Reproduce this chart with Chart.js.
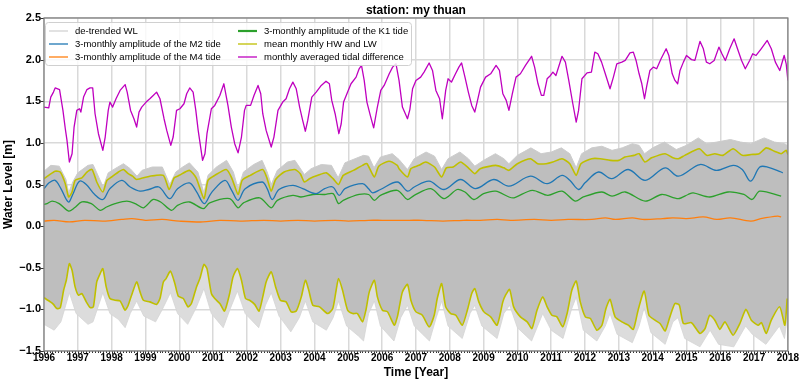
<!DOCTYPE html>
<html><head><meta charset="utf-8">
<script src="https://cdn.jsdelivr.net/npm/chart.js@4.4.1/dist/chart.umd.min.js"></script>
<style>html,body{margin:0;padding:0;background:#fff;}#wrap{width:800px;height:382px;}</style>
</head><body><div id="wrap"><canvas id="c" width="800" height="382"></canvas></div>
<script>
// ---------------- data ----------------
const TITLE = 'station: my thuan';
const X_TITLE = 'Time [Year]';
const Y_TITLE = 'Water Level [m]';
const X_MIN = 1996, X_MAX = 2018;
const Y_MIN = -1.5, Y_MAX = 2.5;

const LABELS = ['de-trended WL','3-monthly amplitude of the M2 tide','3-monthly amplitude of the M4 tide',
  '3-monthly amplitude of the K1 tide','mean monthly HW and LW','monthly averaged tidal difference'];

// monthly averaged tidal difference
const DIFF_T = [1996.00,1996.14,1996.20,1996.28,1996.33,1996.46,1996.56,1996.63,1996.68,1996.75,1996.83,1996.89,1996.97,
 1997.05,1997.09,1997.17,1997.27,1997.36,1997.44,1997.51,1997.61,1997.74,1997.81,1997.90,1997.95,
 1998.03,1998.13,1998.25,1998.40,1998.46,1998.56,1998.66,1998.74,1998.81,1998.89,
 1999.02,1999.13,1999.23,1999.33,1999.43,1999.55,1999.63,1999.75,1999.82,1999.92,
 2000.02,2000.14,2000.22,2000.31,2000.41,2000.49,2000.56,2000.69,2000.76,2000.82,2000.95,
 2001.05,2001.20,2001.32,2001.44,2001.54,2001.64,2001.74,2001.84,2001.93,2001.98,
 2002.11,2002.21,2002.33,2002.41,2002.47,2002.57,2002.72,2002.80,2002.92,
 2003.06,2003.16,2003.26,2003.36,2003.46,2003.56,2003.65,2003.73,2003.80,2003.92,
 2004.05,2004.20,2004.34,2004.44,2004.51,2004.61,2004.72,2004.79,2004.86,2004.98,
 2005.08,2005.23,2005.32,2005.39,2005.47,2005.55,2005.65,2005.75,2005.85,2005.96,
 2006.06,2006.21,2006.31,2006.41,2006.50,2006.60,2006.75,2006.82,2006.90,
 2007.00,2007.14,2007.24,2007.39,2007.49,2007.59,2007.70,2007.78,2007.88,2007.95,
 2008.05,2008.17,2008.27,2008.35,2008.45,2008.55,2008.65,2008.74,2008.81,2008.91,
 2009.06,2009.21,2009.37,2009.47,2009.57,2009.67,2009.75,2009.85,2009.96,
 2010.09,2010.24,2010.42,2010.51,2010.61,2010.71,2010.78,2010.88,2010.98,
 2011.05,2011.14,2011.32,2011.42,2011.52,2011.64,2011.74,2011.81,2011.91,
 2012.06,2012.19,2012.29,2012.38,2012.49,2012.60,2012.74,2012.84,2012.94,
 2013.09,2013.19,2013.33,2013.43,2013.51,2013.60,2013.68,2013.76,2013.82,2013.92,
 2014.02,2014.12,2014.25,2014.40,2014.48,2014.58,2014.66,2014.74,2014.81,2014.91,
 2015.00,2015.15,2015.25,2015.40,2015.50,2015.59,2015.69,2015.82,2015.96,
 2016.05,2016.15,2016.28,2016.41,2016.51,2016.63,2016.74,2016.87,2016.96,
 2017.06,2017.21,2017.39,2017.51,2017.63,2017.76,2017.89,2017.95,2018.00];
const DIFF_V = [1.43,1.42,1.55,1.61,1.66,1.64,1.39,1.17,1.03,0.77,0.87,1.19,1.39,
 1.41,1.37,1.55,1.64,1.66,1.66,1.35,1.11,0.91,1.07,1.39,1.49,
 1.43,1.53,1.63,1.70,1.61,1.39,1.29,1.19,1.37,1.43,
 1.49,1.53,1.57,1.61,1.53,1.29,1.15,0.97,1.07,1.39,
 1.41,1.47,1.59,1.66,1.61,1.39,1.15,0.79,0.87,1.11,1.41,
 1.45,1.57,1.71,1.45,1.19,0.99,0.88,1.07,1.39,1.45,
 1.45,1.57,1.69,1.59,1.35,1.15,0.95,1.07,1.39,
 1.49,1.53,1.65,1.73,1.65,1.43,1.27,1.14,1.27,1.55,
 1.61,1.69,1.74,1.71,1.51,1.35,1.11,1.23,1.49,1.61,
 1.71,1.79,1.89,1.93,1.75,1.49,1.33,1.18,1.41,1.63,
 1.69,1.83,1.91,1.95,1.75,1.43,1.29,1.40,1.65,
 1.75,1.79,1.85,1.96,1.87,1.63,1.53,1.29,1.63,1.77,
 1.73,1.83,1.91,1.96,1.79,1.61,1.45,1.37,1.49,1.67,
 1.79,1.83,1.93,1.87,1.59,1.51,1.39,1.59,1.79,
 1.83,1.93,2.04,1.91,1.71,1.57,1.57,1.77,1.81,
 1.85,1.81,2.04,1.97,1.75,1.47,1.25,1.39,1.77,
 1.84,1.85,2.09,2.07,1.97,1.83,1.65,1.79,1.95,
 1.97,1.99,2.08,2.09,1.99,1.83,1.71,1.53,1.67,1.87,
 1.91,1.89,2.01,2.13,2.05,1.83,1.75,1.71,1.87,1.97,
 2.05,2.00,1.99,2.22,2.13,1.97,1.95,1.99,2.15,
 2.07,1.99,2.13,2.25,2.13,1.99,1.89,1.99,2.07,
 2.05,2.13,2.23,2.13,1.97,1.87,2.05,1.95,1.75];

// mean monthly HW
const HW_T = [1996.00,1996.14,1996.33,1996.48,1996.63,1996.73,1996.83,1996.92,1997.12,1997.27,1997.42,1997.56,1997.74,1997.86,
 1998.00,1998.20,1998.35,1998.49,1998.62,1998.74,1999.13,1999.53,1999.70,1999.85,2000.00,2000.30,2000.50,2000.73,2000.85,
 2001.05,2001.39,2001.55,2001.74,2001.86,2002.10,2002.47,2002.60,2002.72,2002.85,2003.10,2003.42,2003.58,2003.70,2003.85,
 2004.10,2004.35,2004.55,2004.71,2004.85,2005.15,2005.42,2005.55,2005.77,2005.90,2006.20,2006.45,2006.50,2006.75,2006.85,
 2007.09,2007.29,2007.55,2007.76,2007.90,2008.10,2008.32,2008.55,2008.74,2008.90,2009.36,2009.60,2009.75,2010.00,2010.39,
 2010.60,2010.85,2011.05,2011.32,2011.55,2011.74,2011.88,2012.20,2012.45,2012.75,2013.00,2013.18,2013.45,2013.60,2013.77,
 2013.97,2014.37,2014.60,2014.76,2014.95,2015.38,2015.60,2015.84,2016.08,2016.38,2016.65,2016.92,2017.15,2017.36,2017.60,
 2017.80,2017.95,2018.00];
const HW_V = [0.57,0.61,0.66,0.65,0.51,0.35,0.41,0.55,0.58,0.65,0.68,0.53,0.41,0.55,
 0.59,0.65,0.68,0.63,0.60,0.56,0.60,0.61,0.44,0.58,0.61,0.67,0.58,0.33,0.55,
 0.61,0.68,0.58,0.38,0.55,0.61,0.68,0.57,0.42,0.56,0.65,0.68,0.63,0.53,0.57,
 0.61,0.64,0.57,0.50,0.61,0.67,0.73,0.75,0.59,0.72,0.78,0.73,0.69,0.59,0.69,
 0.73,0.77,0.71,0.59,0.70,0.71,0.77,0.70,0.63,0.69,0.73,0.70,0.67,0.75,0.81,
 0.75,0.75,0.77,0.81,0.75,0.61,0.75,0.81,0.81,0.79,0.79,0.83,0.85,0.87,0.77,
 0.82,0.87,0.82,0.81,0.85,0.93,0.85,0.87,0.85,0.93,0.85,0.86,0.87,0.94,0.90,
 0.87,0.91,0.86];

// mean monthly LW
const LW_T = [1996.00,1996.19,1996.28,1996.38,1996.48,1996.58,1996.66,1996.75,1996.83,1996.92,1997.02,1997.12,1997.25,1997.37,
 1997.46,1997.56,1997.66,1997.74,1997.84,1997.95,1998.10,1998.25,1998.40,1998.49,1998.59,1998.74,1998.84,1998.94,
 1999.13,1999.33,1999.43,1999.53,1999.61,1999.74,1999.87,1999.97,2000.12,2000.26,2000.36,2000.51,2000.61,2000.73,2000.82,
 2000.95,2001.05,2001.20,2001.34,2001.49,2001.59,2001.72,2001.84,2001.96,2002.08,2002.23,2002.36,2002.47,2002.57,2002.72,
 2002.85,2002.99,2003.16,2003.31,2003.46,2003.61,2003.73,2003.83,2003.95,2004.15,2004.39,2004.54,2004.64,2004.71,2004.83,
 2004.98,2005.13,2005.27,2005.42,2005.52,2005.62,2005.77,2005.86,2006.01,2006.16,2006.36,2006.45,2006.50,2006.60,2006.75,
 2006.85,2007.00,2007.19,2007.39,2007.54,2007.63,2007.76,2007.88,2008.03,2008.18,2008.37,2008.52,2008.65,2008.74,2008.86,
 2009.01,2009.21,2009.40,2009.57,2009.65,2009.77,2009.89,2010.09,2010.29,2010.43,2010.58,2010.75,2010.88,2011.02,2011.17,
 2011.34,2011.47,2011.61,2011.74,2011.86,2012.01,2012.16,2012.35,2012.50,2012.62,2012.74,2012.89,2013.09,2013.28,2013.43,
 2013.57,2013.75,2013.89,2014.07,2014.22,2014.37,2014.51,2014.66,2014.79,2014.91,2015.15,2015.40,2015.55,2015.69,2015.84,
 2015.99,2016.14,2016.38,2016.58,2016.76,2016.92,2017.12,2017.22,2017.36,2017.51,2017.76,2017.91,2017.98];
const LW_V = [-0.86,-0.91,-0.94,-0.99,-0.98,-0.77,-0.65,-0.45,-0.53,-0.73,-0.83,-0.81,-0.91,-0.98,
 -0.97,-0.67,-0.57,-0.51,-0.73,-0.87,-0.89,-0.90,-1.01,-0.95,-0.83,-0.67,-0.79,-0.89,
 -0.91,-0.94,-0.87,-0.67,-0.63,-0.54,-0.69,-0.84,-0.87,-0.97,-0.93,-0.73,-0.63,-0.46,-0.51,
 -0.81,-0.87,-0.93,-1.02,-0.81,-0.61,-0.51,-0.65,-0.87,-0.89,-0.94,-1.02,-0.85,-0.67,-0.55,
 -0.73,-0.89,-0.91,-1.03,-1.02,-0.85,-0.65,-0.77,-0.95,-0.97,-1.05,-0.99,-0.77,-0.63,-0.77,
 -1.01,-1.05,-1.05,-1.15,-1.01,-0.79,-0.65,-0.85,-1.01,-1.03,-1.19,-1.09,-0.99,-0.79,-0.70,
 -0.89,-1.03,-1.07,-1.21,-1.07,-0.87,-0.69,-0.97,-1.05,-1.07,-1.19,-1.01,-0.81,-0.75,-0.91,
 -1.03,-1.09,-1.19,-0.91,-0.83,-0.76,-0.97,-1.09,-1.15,-1.23,-1.01,-0.85,-0.97,-1.07,-1.09,
 -1.21,-1.05,-0.77,-0.66,-0.91,-1.09,-1.11,-1.25,-1.19,-0.99,-0.88,-1.09,-1.15,-1.19,-1.24,
 -1.01,-0.78,-1.07,-1.13,-1.17,-1.26,-1.09,-0.93,-0.95,-1.17,-1.16,-1.29,-1.23,-1.07,-1.13,
 -1.24,-1.15,-1.31,-1.17,-1.00,-1.13,-1.19,-1.16,-1.29,-1.13,-0.97,-1.19,-0.87];

// 3-monthly amplitude of the M2 tide
const M2_T = [1996.00,1996.15,1996.33,1996.50,1996.72,1996.85,1997.05,1997.25,1997.50,1997.74,1997.95,1998.30,1998.55,1998.84,
 1999.10,1999.40,1999.72,1999.95,2000.30,2000.50,2000.74,2000.95,2001.35,2001.55,2001.74,2001.95,2002.45,2002.60,2002.75,
 2002.95,2003.36,2003.65,2004.05,2004.30,2004.54,2004.73,2004.90,2005.42,2005.60,2005.72,2005.95,2006.45,2006.75,2006.95,
 2007.39,2007.83,2008.32,2008.76,2009.30,2009.75,2010.39,2010.88,2011.32,2011.55,2011.81,2012.00,2012.40,2012.79,2013.28,
 2013.78,2014.37,2014.76,2015.40,2015.89,2016.38,2016.65,2016.90,2017.17,2017.40,2017.80,2017.85];
const M2_V = [0.45,0.52,0.55,0.45,0.29,0.38,0.54,0.50,0.38,0.32,0.45,0.55,0.47,0.42,
 0.44,0.47,0.33,0.45,0.52,0.42,0.27,0.40,0.55,0.43,0.31,0.45,0.53,0.45,0.32,
 0.44,0.49,0.45,0.39,0.45,0.47,0.37,0.45,0.51,0.45,0.40,0.44,0.53,0.42,0.47,
 0.54,0.44,0.56,0.45,0.56,0.48,0.60,0.51,0.61,0.55,0.44,0.52,0.65,0.57,0.68,
 0.55,0.70,0.60,0.74,0.67,0.73,0.68,0.54,0.71,0.71,0.65,0.64];

// 3-monthly amplitude of the K1 tide
const K1_T = [1996.00,1996.09,1996.24,1996.45,1996.73,1996.90,1997.12,1997.40,1997.66,1997.85,1998.10,1998.45,1998.70,1998.94,
 1999.23,1999.45,1999.77,1999.95,2000.30,2000.71,2000.90,2001.49,2001.74,2001.90,2002.38,2002.72,2002.90,2003.36,2003.60,
 2003.95,2004.30,2004.55,2004.71,2004.85,2005.32,2005.60,2005.77,2005.95,2006.45,2006.75,2006.95,2007.44,2007.83,2008.22,
 2008.45,2008.71,2009.00,2009.36,2009.75,2009.90,2010.44,2010.90,2011.32,2011.71,2011.95,2012.50,2012.80,2013.19,2013.78,
 2014.27,2014.76,2015.05,2015.20,2015.69,2016.23,2016.70,2016.94,2017.17,2017.80];
const K1_V = [0.26,0.27,0.30,0.27,0.18,0.22,0.29,0.27,0.19,0.23,0.27,0.30,0.27,0.22,
 0.32,0.29,0.19,0.25,0.29,0.21,0.28,0.33,0.22,0.28,0.34,0.22,0.31,0.37,0.35,
 0.38,0.38,0.39,0.27,0.31,0.38,0.38,0.31,0.37,0.43,0.32,0.37,0.45,0.33,0.44,
 0.41,0.32,0.39,0.42,0.35,0.34,0.43,0.37,0.42,0.30,0.35,0.41,0.36,0.41,0.30,
 0.38,0.33,0.38,0.40,0.35,0.41,0.38,0.32,0.42,0.36];

// 3-monthly amplitude of the M4 tide
const M4_T = [1996.00,1996.30,1996.75,1997.20,1997.75,1998.30,1998.60,1999.00,1999.50,2000.00,2000.70,2001.20,2001.80,2002.50,
 2003.00,2003.50,2004.00,2004.60,2005.00,2005.60,2006.00,2006.80,2007.20,2007.80,2008.40,2008.90,2009.40,2009.80,2010.50,
 2011.00,2011.50,2012.20,2012.60,2012.90,2013.40,2013.70,2014.30,2014.60,2015.00,2015.50,2015.90,2016.30,2016.90,2017.20,
 2017.70,2017.80];
const M4_V = [0.06,0.07,0.05,0.07,0.06,0.08,0.09,0.07,0.08,0.06,0.05,0.07,0.06,0.07,
 0.06,0.07,0.06,0.07,0.06,0.07,0.07,0.07,0.07,0.06,0.07,0.07,0.08,0.07,0.08,
 0.07,0.08,0.08,0.10,0.08,0.10,0.08,0.09,0.10,0.09,0.11,0.08,0.10,0.06,0.09,
 0.12,0.11];

// de-trended WL: upper and lower envelope of the hourly record
const WL_TOP_T = [1996.00,1996.20,1996.45,1996.65,1996.73,1996.85,1997.00,1997.30,1997.45,1997.65,1997.75,1997.90,1998.10,1998.35,
 1998.55,1998.75,1998.90,1999.20,1999.50,1999.72,1999.90,2000.10,2000.30,2000.55,2000.73,2000.85,2001.10,2001.40,2001.60,
 2001.74,2001.90,2002.20,2002.45,2002.60,2002.72,2002.90,2003.20,2003.42,2003.70,2003.90,2004.20,2004.50,2004.70,2004.90,
 2005.20,2005.45,2005.60,2005.76,2005.95,2006.30,2006.50,2006.75,2006.95,2007.30,2007.55,2007.76,2007.95,2008.30,2008.55,
 2008.74,2009.00,2009.35,2009.60,2009.75,2010.00,2010.40,2010.70,2011.00,2011.30,2011.55,2011.74,2011.90,2012.20,2012.50,
 2012.80,2013.10,2013.40,2013.60,2013.76,2014.00,2014.35,2014.70,2015.00,2015.35,2015.60,2015.90,2016.30,2016.60,2016.90,
 2017.30,2017.60,2017.90,2017.98];
const WL_TOP_V = [0.66,0.73,0.72,0.56,0.40,0.53,0.64,0.73,0.74,0.56,0.47,0.64,0.69,0.75,
 0.69,0.60,0.67,0.71,0.71,0.50,0.65,0.71,0.76,0.65,0.40,0.61,0.71,0.79,0.65,
 0.45,0.65,0.74,0.79,0.65,0.50,0.67,0.77,0.79,0.62,0.69,0.74,0.73,0.58,0.76,
 0.81,0.85,0.84,0.70,0.83,0.87,0.80,0.68,0.81,0.89,0.84,0.68,0.81,0.89,0.81,
 0.72,0.79,0.87,0.81,0.75,0.85,0.94,0.87,0.89,0.94,0.87,0.70,0.87,0.94,0.96,
 0.91,0.94,0.99,0.97,0.87,0.94,1.01,0.92,0.97,1.06,0.99,1.01,1.04,1.01,0.99,
 1.06,1.01,0.99,0.97];
const WL_BOT_T = [1996.00,1996.30,1996.50,1996.75,1996.95,1997.30,1997.45,1997.74,1997.95,1998.20,1998.40,1998.55,1998.74,1998.95,
 1999.30,1999.50,1999.74,1999.95,2000.25,2000.50,2000.73,2000.95,2001.30,2001.50,2001.72,2001.95,2002.35,2002.55,2002.72,
 2002.95,2003.30,2003.55,2003.73,2003.95,2004.35,2004.55,2004.71,2004.95,2005.30,2005.45,2005.60,2005.77,2005.95,2006.35,
 2006.55,2006.75,2006.95,2007.40,2007.60,2007.76,2007.95,2008.37,2008.60,2008.74,2008.95,2009.40,2009.60,2009.77,2010.00,
 2010.42,2010.60,2010.75,2011.00,2011.35,2011.60,2011.74,2011.95,2012.35,2012.60,2012.74,2012.95,2013.40,2013.60,2013.75,
 2013.95,2014.37,2014.60,2014.75,2014.95,2015.40,2015.70,2015.95,2016.40,2016.75,2016.95,2017.35,2017.75,2017.90,2017.98];
const WL_BOT_V = [-1.18,-1.25,-1.15,-0.80,-1.05,-1.18,-1.15,-0.80,-1.05,-1.12,-1.22,-1.05,-0.90,-1.08,
 -1.15,-1.00,-0.80,-1.05,-1.18,-0.98,-0.75,-1.05,-1.22,-1.00,-0.78,-1.05,-1.22,-0.95,-0.80,
 -1.08,-1.27,-1.10,-0.90,-1.15,-1.25,-1.10,-0.90,-1.20,-1.32,-1.38,-1.05,-0.90,-1.20,-1.38,
 -1.10,-0.95,-1.20,-1.38,-1.10,-0.90,-1.20,-1.35,-1.05,-0.95,-1.20,-1.35,-1.05,-0.95,-1.22,
 -1.38,-1.20,-1.05,-1.25,-1.35,-1.00,-0.85,-1.25,-1.38,-1.20,-1.05,-1.30,-1.40,-1.20,-0.98,
 -1.28,-1.42,-1.15,-1.10,-1.35,-1.45,-1.25,-1.42,-1.45,-1.20,-1.30,-1.42,-1.20,-1.35,-1.10];

// ---------------- chart ----------------
const FONT = "'Liberation Sans', Arial, Helvetica, sans-serif";
Chart.defaults.font.family = FONT;
Chart.defaults.color = '#000';
const pts = (t, v) => t.map((x, i) => ({x: x, y: v[i]}));

const COL = {wl:'#bebebe', wlUpper:'#cacaca', wlLower:'#dcdcdc', m2:'#1f77b4', m4:'#ff7f0e', k1:'#2ca02c', hl:'#bfbf00', diff:'#bf00bf'};
const HW_INDEX = 4, LW_INDEX = 5;

const datasets = [
  {label: LABELS[0], data: pts(WL_TOP_T, WL_TOP_V), borderColor:'#cccccc', borderWidth:1, backgroundColor: COL.wlUpper,
   fill:{target: HW_INDEX}, order:10, legendColor:'#e2e2e2', legendWidth:2, inLegend:true},
  {label: LABELS[1], data: pts(M2_T, M2_V), borderColor: COL.m2, borderWidth:1.3, tension:0.35, order:3, inLegend:true},
  {label: LABELS[2], data: pts(M4_T, M4_V), borderColor: COL.m4, borderWidth:1.3, tension:0.35, order:3, inLegend:true},
  {label: LABELS[3], data: pts(K1_T, K1_V), borderColor: COL.k1, borderWidth:1.3, tension:0.3, order:3, inLegend:true, legendWidth:2.2},
  {label: LABELS[4], data: pts(HW_T, HW_V), borderColor: COL.hl, borderWidth:1.6, tension:0.2, order:2, inLegend:true, legendWidth:1.3,
   backgroundColor: COL.wl, fill:{target: LW_INDEX}},
  {label: '', data: pts(LW_T, LW_V), borderColor: COL.hl, borderWidth:1.6, tension:0.2, order:2, inLegend:false},
  {label: LABELS[5], data: pts(DIFF_T, DIFF_V), borderColor: COL.diff, borderWidth:1.3, tension:0, order:1, inLegend:true},
  {label: '', data: pts(WL_BOT_T, WL_BOT_V), borderColor:'#d4d4d4', borderWidth:0.8, backgroundColor: COL.wlLower,
   fill:{target: LW_INDEX}, order:11, inLegend:false}
];
datasets.forEach(d => { d.pointRadius = 0; d.pointHoverRadius = 0; if (d.fill === undefined) d.fill = false; });

const framePlugin = {
  id: 'frame',
  afterDatasetsDraw(chart) {
    const {ctx, chartArea: ca, scales} = chart;
    ctx.save();
    ctx.strokeStyle = '#333';
    ctx.lineWidth = 1;
    ctx.beginPath();
    for (let m = X_MIN * 12; m <= X_MAX * 12; m++) {
      const x = Math.round(scales.x.getPixelForValue(m / 12)) + 0.5;
      const len = (m % 12 === 0) ? 3.5 : 2;
      ctx.moveTo(x, ca.bottom); ctx.lineTo(x, ca.bottom + len);
    }
    for (let v = Y_MIN; v <= Y_MAX + 1e-9; v += 0.5) {
      const y = Math.round(scales.y.getPixelForValue(v)) + 0.5;
      ctx.moveTo(ca.left - 3.5, y); ctx.lineTo(ca.left, y);
    }
    ctx.stroke();
    ctx.strokeStyle = '#808080';
    ctx.lineWidth = 1.3;
    ctx.strokeRect(ca.left, ca.top, ca.right - ca.left, ca.bottom - ca.top);
    ctx.restore();
  },
  afterDraw(chart) {
    const {ctx} = chart;
    const items = chart.data.datasets.filter(d => d.inLegend);
    const bx = 45.5, by = 22.5, bw = 366, bh = 43;
    ctx.save();
    ctx.beginPath();
    const r = 3;
    ctx.moveTo(bx + r, by); ctx.lineTo(bx + bw - r, by); ctx.quadraticCurveTo(bx + bw, by, bx + bw, by + r);
    ctx.lineTo(bx + bw, by + bh - r); ctx.quadraticCurveTo(bx + bw, by + bh, bx + bw - r, by + bh);
    ctx.lineTo(bx + r, by + bh); ctx.quadraticCurveTo(bx, by + bh, bx, by + bh - r);
    ctx.lineTo(bx, by + r); ctx.quadraticCurveTo(bx, by, bx + r, by);
    ctx.closePath();
    ctx.fillStyle = 'rgba(255,255,255,0.82)';
    ctx.fill();
    ctx.strokeStyle = '#d0d0d0';
    ctx.lineWidth = 1;
    ctx.stroke();
    ctx.font = '9.5px ' + FONT;
    ctx.textBaseline = 'middle';
    ctx.fillStyle = '#000';
    const colX = [49, 238], rowY = [31, 44, 57];
    items.forEach((d, i) => {
      const c = Math.floor(i / 3), rr = i % 3;
      const x = colX[c], y = rowY[rr];
      ctx.strokeStyle = d.legendColor || d.borderColor;
      ctx.lineWidth = d.legendWidth || 1.3;
      ctx.beginPath(); ctx.moveTo(x, y); ctx.lineTo(x + 19, y); ctx.stroke();
      ctx.fillText(d.label, x + 26, y + 0.5);
    });
    ctx.restore();
  }
};

new Chart(document.getElementById('c'), {
  type: 'line',
  data: {datasets: datasets},
  plugins: [framePlugin],
  options: {
    responsive: false,
    animation: false,
    devicePixelRatio: 1,
    layout: {padding: {left: 0, right: 10, top: 0, bottom: 0}},
    plugins: {
      legend: {display: false},
      tooltip: {enabled: false},
      title: {display: true, text: TITLE, fullSize: false, color: '#000',
              font: {size: 12, weight: 'bold', family: FONT}, padding: {top: 3, bottom: 0.6}},
      filler: {propagate: false, drawTime: 'beforeDatasetsDraw'}
    },
    elements: {line: {borderCapStyle: 'butt', borderJoinStyle: 'round'}},
    scales: {
      x: {
        type: 'linear', min: X_MIN, max: X_MAX,
        afterFit(s) { s.height = 31; },
        grid: {color: '#d9d9d9', lineWidth: 1.5, drawTicks: false},
        border: {display: false},
        ticks: {stepSize: 1, autoSkip: false, maxRotation: 0, padding: 1, color: '#000',
                font: {size: 10, weight: 'bold', family: FONT}, callback: v => String(v)},
        title: {display: true, text: X_TITLE, color: '#000', font: {size: 12, weight: 'bold', family: FONT},
                padding: {top: 0, bottom: 2}}
      },
      y: {
        type: 'linear', min: Y_MIN, max: Y_MAX,
        afterFit(s) { s.width = 44; },
        grid: {color: '#d9d9d9', lineWidth: 1.5, drawTicks: false},
        border: {display: false},
        ticks: {stepSize: 0.5, padding: 3, color: '#000', font: {size: 11, weight: 'bold', family: FONT},
                callback: v => v.toFixed(1).replace('-', '\u2212')},
        title: {display: true, text: Y_TITLE, color: '#000', font: {size: 12, weight: 'bold', family: FONT},
                padding: {top: 1, bottom: 0}}
      }
    }
  }
});
</script></body></html>
